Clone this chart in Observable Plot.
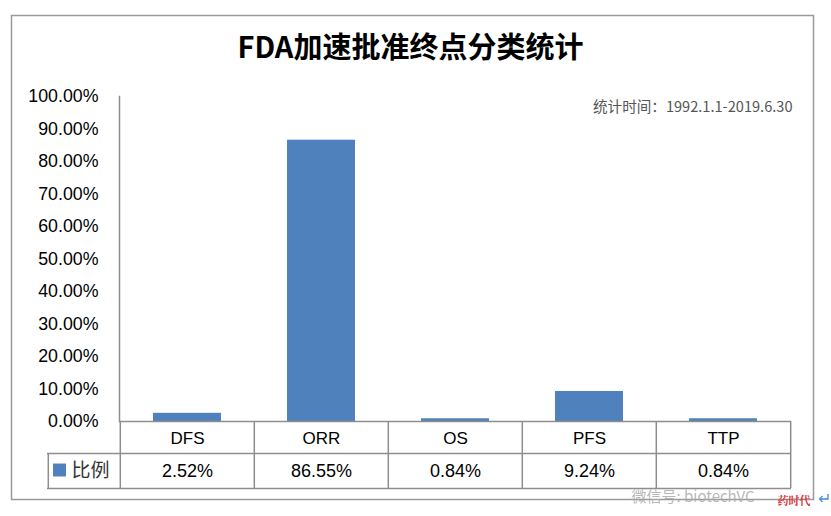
<!DOCTYPE html>
<html>
<head>
<meta charset="utf-8">
<script src="https://cdn.jsdelivr.net/npm/d3@7"></script>
<script src="https://cdn.jsdelivr.net/npm/@observablehq/plot@0.6"></script>
<style>
  html, body { margin: 0; padding: 0; background: #fff; }
  #chart { position: absolute; left: 0; top: 0; }
</style>
</head>
<body>
<div id="chart"></div>
<script>
const title = "FDA加速批准终点分类统计";
const note = "统计时间：1992.1.1-2019.6.30";
const seriesName = "比例";
const categories = ["DFS", "ORR", "OS", "PFS", "TTP"];
const values = [2.52, 86.55, 0.84, 9.24, 0.84];
const yTicks = [0, 10, 20, 30, 40, 50, 60, 70, 80, 90, 100];

const data = categories.map((c, i) => ({cat: c, value: values[i]}));
const fmt = d => d.toFixed(2) + "%";

const W = 831, H = 516;
const mL = 119, mR = 40, mT = 96, mB = 95;
const bw = (W - mL - mR) / categories.length;
const plotH = H - mT - mB;
const grid = "#8e8e8e";
const font = "'Liberation Sans', Arial, sans-serif";
const cjk = "'Noto Sans CJK SC', sans-serif";

const chart = Plot.plot({
  width: W, height: H,
  marginLeft: mL, marginRight: mR, marginTop: mT, marginBottom: mB,
  style: {fontFamily: font, background: "#fff", overflow: "visible"},
  x: {domain: categories, padding: 0, axis: null},
  y: {domain: [0, 100], axis: null},
  marks: [
    // outer chart border
    Plot.frame({stroke: "#9a9a9a", strokeWidth: 1.5, insetLeft: -108, insetRight: -22, insetTop: -81, insetBottom: -78}),
    // bars
    Plot.barY(data, {x: "cat", y: "value", fill: "#4F81BD", insetLeft: 33, insetRight: 33}),
    // y axis
    Plot.axisY({ticks: yTicks, tickFormat: fmt, tickSize: 0, tickPadding: 21, fontSize: 17.8, fill: "#000", fontFamily: font, label: null}),
    Plot.frame({anchor: "left", stroke: grid, strokeWidth: 1.5}),
    // data table grid
    Plot.ruleY([0], {stroke: grid, strokeWidth: 1.5}),
    Plot.ruleY([0], {dy: 32, insetLeft: -72, stroke: grid, strokeWidth: 1.5}),
    Plot.ruleY([0], {dy: 67, insetLeft: -72, stroke: grid, strokeWidth: 1.5}),
    Plot.ruleX(categories, {x: d => d, dx: -bw / 2, insetTop: plotH, insetBottom: -67, stroke: grid, strokeWidth: 1.5}),
    Plot.ruleX([categories[categories.length - 1]], {x: d => d, dx: bw / 2, insetTop: plotH, insetBottom: -67, stroke: grid, strokeWidth: 1.5}),
    Plot.ruleX([categories[0]], {x: d => d, dx: -bw / 2 - 72, insetTop: plotH + 32, insetBottom: -67, stroke: grid, strokeWidth: 1.5}),
    // table text
    Plot.text(categories, {x: d => d, frameAnchor: "bottom", lineAnchor: "middle", dy: 17, fontSize: 17, fill: "#000", fontFamily: font}),
    Plot.text(data, {x: "cat", text: d => fmt(d.value), frameAnchor: "bottom", lineAnchor: "middle", dy: 50, fontSize: 18, fill: "#000", fontFamily: font}),
    Plot.dot([seriesName], {frameAnchor: "bottom-left", dx: -60, dy: 48.5, symbol: "square", r: 7.3, fill: "#4F81BD", stroke: null}),
    Plot.text([seriesName], {frameAnchor: "bottom-left", lineAnchor: "middle", dx: -48, dy: 49, textAnchor: "start", fontSize: 19, fill: "#333", fontFamily: cjk}),
    // title and note
    Plot.text([title], {frameAnchor: "top", lineAnchor: "middle", dx: 410 - (mL + (W - mL - mR) / 2), dy: -48, fontSize: 29, fontWeight: "bold", fill: "#000", fontFamily: cjk}),
    Plot.text([note], {frameAnchor: "top-right", lineAnchor: "middle", dx: 1, dy: 11, textAnchor: "end", fontSize: 14.6, fill: "#555", fontFamily: cjk}),
    // watermark
    Plot.text(["微信号: biotechVC"], {frameAnchor: "bottom-left", lineAnchor: "middle", dx: 512, dy: 76, textAnchor: "start", fontSize: 15, fill: "#aaa", fillOpacity: 0.85, fontFamily: cjk}),
    Plot.text(["药时代"], {frameAnchor: "bottom-left", lineAnchor: "middle", dx: 658, dy: 80, textAnchor: "start", fontSize: 11, fontWeight: "bold", fill: "#d9363e", fontFamily: "'Noto Serif CJK SC', " + cjk}),
    Plot.text(["↵"], {frameAnchor: "bottom-left", lineAnchor: "middle", dx: 698, dy: 77, textAnchor: "start", fontSize: 16, fill: "#4a90e2", fontFamily: font})
  ]
});
document.getElementById("chart").appendChild(chart);
</script>
</body>
</html>
